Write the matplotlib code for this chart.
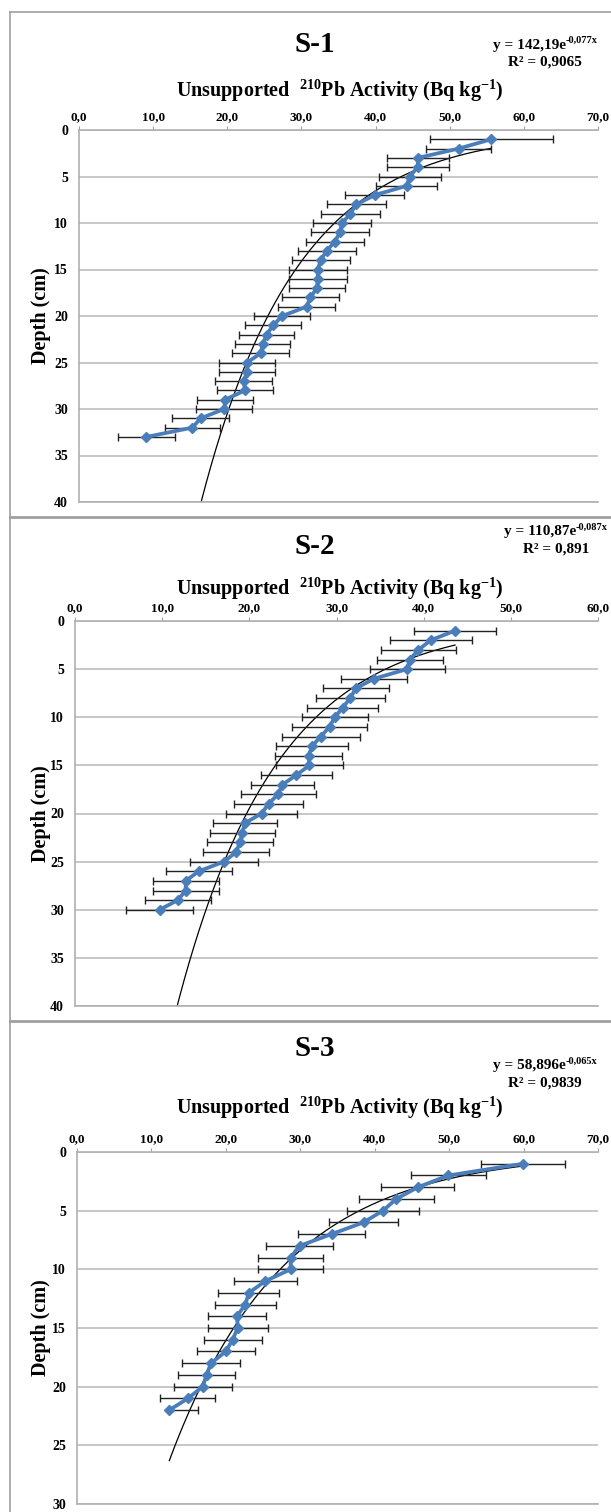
import numpy as np
import matplotlib
matplotlib.use("Agg")
import matplotlib.pyplot as plt
from matplotlib.ticker import FuncFormatter, MultipleLocator
from matplotlib.lines import Line2D

plt.rcParams['font.family'] = ['Liberation Serif', 'DejaVu Serif']
plt.rcParams['font.weight'] = 'bold'
plt.rcParams['mathtext.default'] = 'regular'

# ---------------- data ----------------
depth1 = list(range(1, 34))
act1 = [55.6, 51.2, 45.7, 45.7, 44.6, 44.2, 39.9, 37.4, 36.6, 35.5, 35.2, 34.5, 33.4,
        32.6, 32.2, 32.2, 32.1, 31.2, 30.7, 27.4, 26.2, 25.3, 24.8, 24.5, 22.7, 22.7,
        22.2, 22.4, 19.7, 19.6, 16.4, 15.3, 9.1]
err1 = [8.3, 4.4, 4.2, 4.2, 4.2, 4.1, 4.0, 4.0, 4.0, 3.9, 3.9, 3.9, 3.9, 3.9, 3.9, 3.9,
        3.8, 3.8, 3.8, 3.8, 3.8, 3.7, 3.7, 3.8, 3.8, 3.8, 3.8, 3.8, 3.8, 3.8, 3.8, 3.7, 3.8]
fit1 = (142.19, -0.077)
eq1 = ("y = 142,19e", "-0,077x", "R² = 0,9065")

depth2 = list(range(1, 31))
act2 = [43.6, 40.8, 39.4, 38.4, 38.1, 34.3, 32.2, 31.6, 30.7, 29.8, 29.2, 28.2, 27.2,
        26.8, 26.9, 25.4, 23.8, 23.3, 22.2, 21.4, 19.5, 19.2, 18.9, 18.5, 17.1, 14.2,
        12.7, 12.7, 11.8, 9.7]
err2 = [4.7, 4.7, 4.3, 3.8, 4.3, 3.8, 3.8, 4.0, 4.1, 3.8, 4.3, 4.5, 4.1, 3.8, 3.8, 4.1,
        3.6, 4.3, 4.0, 4.1, 3.7, 3.7, 3.8, 3.8, 3.9, 3.8, 3.8, 3.8, 3.75, 3.8]
fit2 = (110.87, -0.087)
eq2 = ("y = 110,87e", "-0,087x", "R² = 0,891")

depth3 = list(range(1, 23))
act3 = [59.9, 49.9, 45.8, 42.9, 41.1, 38.5, 34.2, 29.9, 28.7, 28.7, 25.3, 23.1, 22.6,
        21.5, 21.6, 20.9, 20.0, 18.0, 17.4, 16.9, 14.9, 12.4]
err3_plus = [5.6, 5.0, 4.9, 5.0, 4.8, 4.6, 4.5, 4.5, 4.4, 4.4, 4.2, 4.1, 4.1, 3.9, 4.0,
             3.9, 3.9, 3.9, 3.8, 3.9, 3.7, 3.8]
err3_minus = [5.6, 5.0, 4.9, 5.0, 4.8, 4.6, 4.5, 4.5, 4.4, 4.4, 4.2, 4.1, 4.1, 3.9, 4.0,
              3.9, 3.9, 3.9, 3.8, 3.9, 3.7, 0.0]
fit3 = (58.896, -0.065)
eq3 = ("y = 58,896e", "-0,065x", "R² = 0,9839")

titles = ["S-1", "S-2", "S-3"]
xlabel = "Unsupported  $^{210}$Pb Activity (Bq kg$^{-1}$)"
ylabel = "Depth (cm)"

# ---------------- figure ----------------
W, H = 611, 1512
fig = plt.figure(figsize=(W / 100, H / 100), dpi=100)
fig.patch.set_facecolor('white')


def fx(px):
    return px / W


def fy(py):
    return 1 - py / H


border_col = '#A0A0A0'
fig.add_artist(Line2D([fx(10), fx(10)], [fy(12), fy(1512)], color=border_col, lw=1.2))
fig.add_artist(Line2D([fx(10), fx(611)], [fy(12), fy(12)], color=border_col, lw=1.2))
for ys in (517, 1021):
    fig.add_artist(Line2D([fx(10), fx(611)], [fy(ys), fy(ys)], color=border_col, lw=2.0))

panels = [
    dict(act=act1, depth=depth1, err=[err1, err1], fit=fit1, eq=eq1, title=titles[0],
         xmax=70, ymax=40, box=(79, 598, 130, 502), ttl_y=45, eq_y=(45, 62), xl_y=91,
         eq_x=545),
    dict(act=act2, depth=depth2, err=[err2, err2], fit=fit2, eq=eq2, title=titles[1],
         xmax=60, ymax=40, box=(75, 598, 621, 1006), ttl_y=547, eq_y=(532, 549), xl_y=589,
         eq_x=556),
    dict(act=act3, depth=depth3, err=[err3_minus, err3_plus], fit=fit3, eq=eq3,
         title=titles[2], xmax=70, ymax=30, box=(77, 598, 1152, 1504), ttl_y=1049,
         eq_y=(1066, 1083), xl_y=1108, eq_x=545),
]

fmt = FuncFormatter(lambda v, p: f"{v:.1f}".replace('.', ','))

fig.canvas.draw()
renderer = fig.canvas.get_renderer()

for P in panels:
    l, r, t, b = P['box']
    ax = fig.add_axes([fx(l), fy(b), (r - l) / W, (b - t) / H])
    ax.set_xlim(0, P['xmax'])
    ax.set_ylim(P['ymax'], 0)
    ax.xaxis.set_major_locator(MultipleLocator(10))
    ax.yaxis.set_major_locator(MultipleLocator(5))
    ax.xaxis.set_major_formatter(fmt)
    ax.xaxis.tick_top()
    ax.tick_params(axis='x', length=3, color='#A0A0A0', labelsize=9.5, pad=2)
    ax.tick_params(axis='y', length=0, labelsize=10, pad=8)
    for lab in ax.get_xticklabels() + ax.get_yticklabels():
        lab.set_fontweight('bold')
    ax.grid(axis='y', color='#BDBDBD', lw=1.2)
    ax.set_axisbelow(True)
    ax.spines['right'].set_visible(False)
    for s in ('left', 'top', 'bottom'):
        ax.spines[s].set_color('#B0B0B0')
        ax.spines[s].set_linewidth(1.2)

    act = np.array(P['act'])
    dep = np.array(P['depth'])
    a, k = P['fit']
    xs = np.linspace(act.min(), act.max(), 300)
    ax.plot(xs, a * np.exp(k * xs), color='black', lw=0.9, zorder=2)
    ax.errorbar(act, dep, xerr=P['err'], fmt='none', ecolor='#222222', elinewidth=1.0,
                capsize=3, capthick=1.0, zorder=3)
    ax.plot(act, dep, color='#4A7EBB', lw=2.7, marker='D', ms=4.8, zorder=4)

    fig.text(fx(315), fy(P['ttl_y']), P['title'], ha='center', va='center',
             fontsize=21, fontweight='bold')
    # equation: base + superscript measured to center the pair
    base = fig.text(0, 0, P['eq'][0], fontsize=11, fontweight='bold', va='center',
                    ha='left')
    sup = fig.text(0, 0, P['eq'][1], fontsize=7.5, fontweight='bold', va='center',
                   ha='left')
    wb = base.get_window_extent(renderer).width
    ws = sup.get_window_extent(renderer).width
    x0 = P['eq_x'] - (wb + ws) / 2
    base.set_position((fx(x0), fy(P['eq_y'][0])))
    sup.set_position((fx(x0 + wb), fy(P['eq_y'][0] - 5)))
    fig.text(fx(P['eq_x']), fy(P['eq_y'][1]), P['eq'][2], ha='center', va='center',
             fontsize=11, fontweight='bold')
    fig.text(fx(340), fy(P['xl_y']), xlabel, ha='center', va='center', fontsize=14.5,
             fontweight='bold')
    fig.text(fx(41), fy((t + b) / 2), ylabel, ha='center', va='center', rotation=90,
             fontsize=14.5, fontweight='bold')

fig.savefig('out.png', dpi=100)
